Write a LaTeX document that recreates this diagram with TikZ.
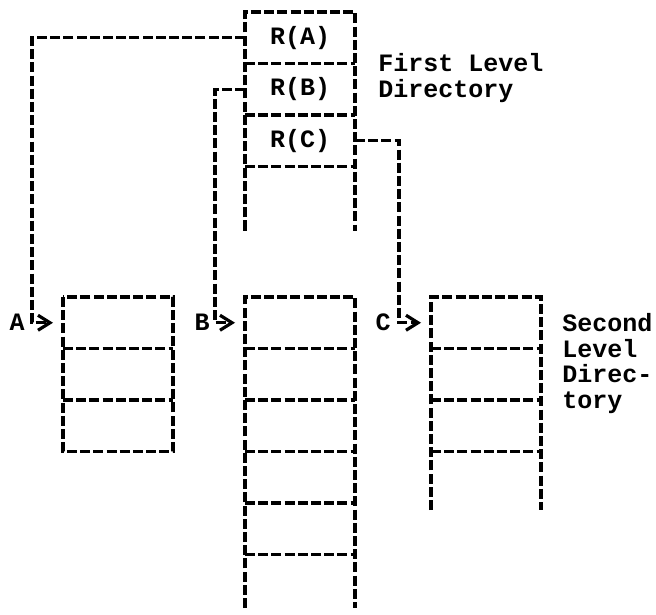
\documentclass[tikz,border=0pt]{standalone}
\usepackage{fontspec}
\setmonofont{Liberation Mono}
\usetikzlibrary{arrows.meta, positioning}

\begin{document}
\begin{tikzpicture}[
  x=0.5pt, y=-0.5pt,
  cell/.style={minimum width=55pt, minimum height=25.75pt, inner sep=0pt,
    outer sep=0pt, font=\ttfamily\bfseries\fontsize{12.5}{12.8}\selectfont},
  side/.style={dash pattern=on 5pt off 1.6pt, line width=1.7pt},
  link/.style={side, -{Straight Barb[length=6pt,width=7.5pt,line width=1.6pt]},
    shorten >=5pt},
  lbl/.style={font=\ttfamily\bfseries\fontsize{12.5}{12.8}\selectfont, inner sep=0pt},
  txt/.style={lbl, align=left, anchor=north west},
]
\useasboundingbox (0,0) rectangle (656,614);

% First level directory
\node[cell] at (300,37.75) (ra) {R(A)};
\node[cell, below=0pt of ra] (rb) {R(B)};
\node[cell, below=0pt of rb] (rc) {R(C)};
\draw[side] ([yshift=-32pt]rc.south west) -- (ra.north west) -- (ra.north east)
  -- ([yshift=-32pt]rc.south east);
\draw[side] (ra.south west) -- (ra.south east) (rb.south west) -- (rb.south east)
  (rc.south west) -- (rc.south east);
\node[txt] at (378,53) (first) {First Level\\Directory};

% Second level, A
\node[cell] at (118,322.75) (a1) {};
\node[cell, below=0pt of a1] (a2) {};
\node[cell, below=0pt of a2] (a3) {};
\draw[side] (a1.north west) rectangle (a3.south east);
\draw[side] (a1.south west) -- (a1.south east) (a2.south west) -- (a2.south east);

% Second level, B
\node[cell] at (300,322.75) (b1) {};
\node[cell, below=0pt of b1] (b2) {};
\node[cell, below=0pt of b2] (b3) {};
\node[cell, below=0pt of b3] (b4) {};
\node[cell, below=0pt of b4] (b5) {};
\draw[side] ([yshift=-26.75pt]b5.south west) -- (b1.north west) -- (b1.north east)
  -- ([yshift=-26.75pt]b5.south east);
\draw[side] (b1.south west) -- (b1.south east) (b2.south west) -- (b2.south east)
  (b3.south west) -- (b3.south east) (b4.south west) -- (b4.south east)
  (b5.south west) -- (b5.south east);

% Second level, C
\node[cell] at (486,322.75) (c1) {};
\node[cell, below=0pt of c1] (c2) {};
\node[cell, below=0pt of c2] (c3) {};
\draw[side] ([yshift=-29.25pt]c3.south west) -- (c1.north west) -- (c1.north east)
  -- ([yshift=-29.25pt]c3.south east);
\draw[side] (c1.south west) -- (c1.south east) (c2.south west) -- (c2.south east)
  (c3.south west) -- (c3.south east);
\node[txt] at (562,313) (second) {Second\\Level\\Direc-\\tory};

% Pointers
\coordinate[left=15.5pt of a1.west] (ka);
\coordinate[left=15pt of b1.west] (kb);
\coordinate[left=16pt of c1.west] (kc);
\draw[link] (ra.west) -| (ka) -- (a1.west);
\draw[link] (rb.west) -| (kb) -- (b1.west);
\draw[link] (rc.east) -| (kc) -- (c1.west);
\node[lbl, left=3.5pt of ka] (la) {A};
\node[lbl, left=2.5pt of kb] (lb) {B};
\node[lbl, left=4pt of kc] (lc) {C};

\end{tikzpicture}
\end{document}
